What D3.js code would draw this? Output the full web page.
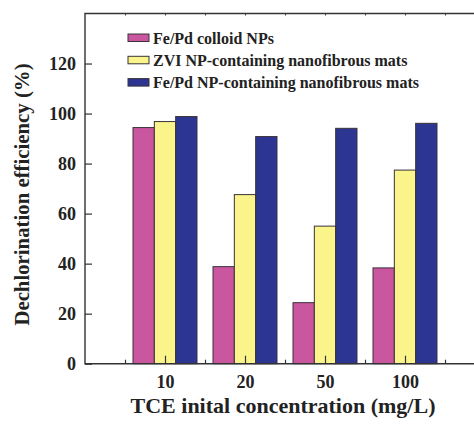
<!DOCTYPE html>
<html>
<head>
<meta charset="utf-8">
<script src="https://cdn.jsdelivr.net/npm/d3@7"></script>
<style>
  body { margin: 0; background: #fff; }
  text { font-family: 'Liberation Serif'; font-weight: bold; }
</style>
</head>
<body>
<svg id="chart" width="474" height="424"></svg>
<script>
  // data
  const concentrations = ['10', '20', '50', '100'];
  const seriesNames = ['Fe/Pd colloid NPs', 'ZVI NP-containing nanofibrous mats', 'Fe/Pd NP-containing nanofibrous mats'];
  const seriesColors = ['#c9569f', '#fbf48a', '#2c3592'];
  const colloid = [94.4, 38.8, 24.4, 38.3];
  const zvi = [96.8, 67.6, 55.0, 77.4];
  const fepdMats = [98.8, 90.8, 94.1, 96.1];
  const yTicks = [0, 20, 40, 60, 80, 100, 120];

  const series = [colloid, zvi, fepdMats];

  const svg = d3.select('#chart');
  const margin = {left: 85, top: 13.5, bottom: 363.7};
  const plotW = 400;

  const x = d3.scaleLinear().domain([0, 5]).range([margin.left, margin.left + plotW]);
  const y = d3.scaleLinear().domain([0, 140]).range([margin.bottom, margin.top]);

  const axisColor = '#333';
  const textColor = '#222';

  const styleText = sel => sel
    .attr('fill', textColor)
    .attr('font-family', 'Liberation Serif')
    .attr('font-weight', 'bold');

  // bars
  const groupW = 0.8;
  const barW = groupW / series.length;
  series.forEach((vals, j) => {
    svg.append('g').selectAll('rect')
      .data(vals)
      .enter().append('rect')
      .attr('x', (d, i) => x(i + 1 - groupW / 2 + j * barW))
      .attr('width', x(barW) - x(0))
      .attr('y', d => y(d))
      .attr('height', d => y(0) - y(d))
      .attr('fill', seriesColors[j])
      .attr('stroke', '#3a3238')
      .attr('stroke-width', 1);
  });

  // y axis (ticks inward)
  const yAxis = svg.append('g')
    .attr('transform', `translate(${margin.left},0)`)
    .call(d3.axisLeft(y).tickValues(yTicks).tickSize(-7).tickPadding(9));
  yAxis.attr('font-family', null);
  yAxis.select('.domain').remove();
  yAxis.selectAll('line').attr('stroke', axisColor).attr('stroke-width', 1.2);
  yAxis.selectAll('text').call(styleText).attr('font-size', 18);

  // x axis: long ticks at categories, short ticks in between
  const xMinor = d3.range(0.5, 5, 1);
  const xMajor = d3.range(1, 5);
  const xAxisMajor = svg.append('g')
    .attr('transform', `translate(0,${margin.bottom})`)
    .call(d3.axisBottom(x).tickValues(xMajor).tickSize(-8).tickPadding(11.5)
      .tickFormat((d, i) => concentrations[i]));
  xAxisMajor.attr('font-family', null);
  xAxisMajor.select('.domain').remove();
  xAxisMajor.selectAll('line').attr('stroke', axisColor).attr('stroke-width', 1.2);
  xAxisMajor.selectAll('text').call(styleText).attr('font-size', 18);

  const xAxisMinor = svg.append('g')
    .attr('transform', `translate(0,${margin.bottom})`)
    .call(d3.axisBottom(x).tickValues(xMinor).tickSize(-4).tickFormat(''));
  xAxisMinor.select('.domain').remove();
  xAxisMinor.selectAll('line').attr('stroke', axisColor).attr('stroke-width', 1.2);

  // top ticks
  const xAxisTop = svg.append('g')
    .attr('transform', `translate(0,${margin.top})`)
    .call(d3.axisTop(x).tickValues(d3.range(0.5, 5, 0.5)).tickSize(-2).tickFormat(''));
  xAxisTop.select('.domain').remove();
  xAxisTop.selectAll('line').attr('stroke', axisColor).attr('stroke-width', 1);

  // frame
  svg.append('path')
    .attr('d', `M${x(5)},${margin.top}H${margin.left}V${margin.bottom}H${x(5)}`)
    .attr('fill', 'none')
    .attr('stroke', axisColor)
    .attr('stroke-width', 1.4);

  // legend
  const legend = svg.append('g').attr('transform', 'translate(128,34)');
  seriesNames.forEach((name, j) => {
    const row = legend.append('g').attr('transform', `translate(0,${j * 22.3})`);
    row.append('rect')
      .attr('width', 21).attr('height', 7.5)
      .attr('fill', seriesColors[j])
      .attr('stroke', '#3a3238').attr('stroke-width', 1);
    row.append('text')
      .attr('x', 25).attr('y', 9.5)
      .call(styleText)
      .attr('font-size', 16)
      .text(name);
  });

  // axis titles
  svg.append('text')
    .attr('transform', `translate(29,${194.5}) rotate(-90)`)
    .attr('text-anchor', 'middle')
    .call(styleText)
    .attr('font-size', 20.8)
    .text('Dechlorination efficiency (%)');

  svg.append('text')
    .attr('x', 283).attr('y', 413)
    .attr('text-anchor', 'middle')
    .call(styleText)
    .attr('font-size', 22)
    .text('TCE inital concentration (mg/L)');
</script>
</body>
</html>
